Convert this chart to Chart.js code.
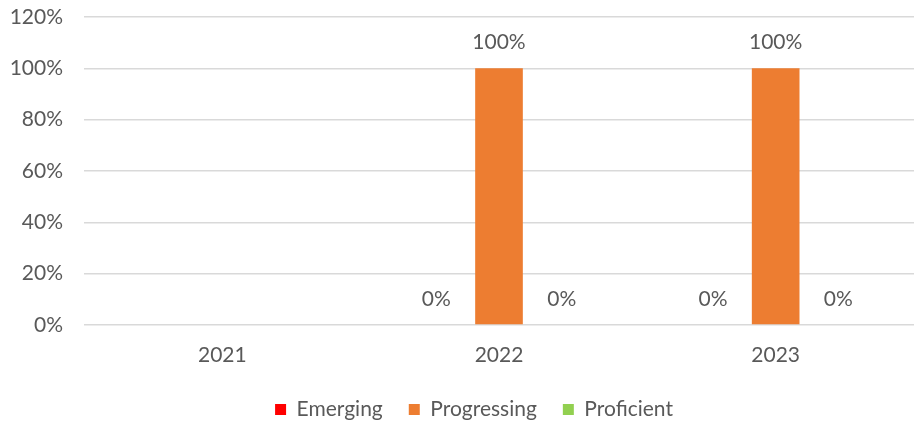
<!DOCTYPE html>
<html lang="en">
<head>
    <meta charset="UTF-8">
    <title>Proficiency by year</title>
    <script src="https://cdn.jsdelivr.net/npm/chart.js"></script>
    <style>
        html, body { margin: 0; padding: 0; background: #ffffff; }
        #wrap { width: 914px; height: 428px; }
    </style>
</head>
<body>
<div id="wrap"><canvas id="chart"></canvas></div>
<script>
    // Years and the share of students at each level (percent; null = no data)
    const years = ['2021', '2022', '2023'];
    const emerging = [null, 0, 0];
    const progressing = [null, 100, 100];
    const proficient = [null, 0, 0];
    const yTicks = [0, 20, 40, 60, 80, 100, 120];

    const textGray = '#595959';
    const fontFamily = "Lato, 'Liberation Sans', sans-serif";

    // Value labels above each bar
    const barLabels = {
        id: 'barLabels',
        afterDatasetsDraw(chart) {
            const ctx = chart.ctx;
            ctx.save();
            ctx.fillStyle = textGray;
            ctx.font = '21px ' + fontFamily;
            ctx.textAlign = 'center';
            ctx.textBaseline = 'middle';
            chart.data.datasets.forEach((ds, i) => {
                chart.getDatasetMeta(i).data.forEach((bar, j) => {
                    const v = ds.data[j];
                    if (v === null) return;
                    ctx.fillText(v + '%', bar.x, bar.y - 26);
                });
            });
            ctx.restore();
        }
    };

    // Legend sits a little right of the canvas centre
    const legendShift = {
        id: 'legendShift',
        afterLayout(chart) {
            chart.legend.left += 17;
            chart.legend.right += 17;
        }
    };

    new Chart(document.getElementById('chart'), {
        type: 'bar',
        data: {
            labels: years,
            datasets: [
                { label: 'Emerging', data: emerging, backgroundColor: '#FF0000' },
                { label: 'Progressing', data: progressing, backgroundColor: '#ED7D31' },
                { label: 'Proficient', data: proficient, backgroundColor: '#92D050' }
            ]
        },
        options: {
            responsive: true,
            maintainAspectRatio: false,
            animation: false,
            categoryPercentage: 0.68,
            barPercentage: 0.76,
            layout: { padding: { top: 17, right: 0, left: 0, bottom: -2 } },
            plugins: {
                tooltip: { enabled: false },
                legend: {
                    position: 'bottom',
                    labels: {
                        boxWidth: 11,
                        boxHeight: 11,
                        padding: 26,
                        color: textGray,
                        font: { size: 21, family: fontFamily }
                    }
                }
            },
            scales: {
                x: {
                    grid: { display: false },
                    border: { display: false },
                    ticks: { color: textGray, padding: 10, font: { size: 21, family: fontFamily } },
                    afterFit(scale) { scale.height = 48; }
                },
                y: {
                    min: 0,
                    max: 120,
                    afterBuildTicks(scale) { scale.ticks = yTicks.map(v => ({ value: v })); },
                    grid: { color: '#d9d9d9', lineWidth: 1.5, drawTicks: false },
                    border: { display: false },
                    ticks: {
                        color: textGray,
                        padding: 21,
                        font: { size: 21, family: fontFamily },
                        callback: v => v + '%'
                    },
                    afterFit(scale) {
                        scale.width = 84;
                        // let the layout padding alone set the plot top
                        scale.paddingTop = 0;
                        scale.paddingBottom = 0;
                    }
                }
            }
        },
        plugins: [barLabels, legendShift]
    });
</script>
</body>
</html>
